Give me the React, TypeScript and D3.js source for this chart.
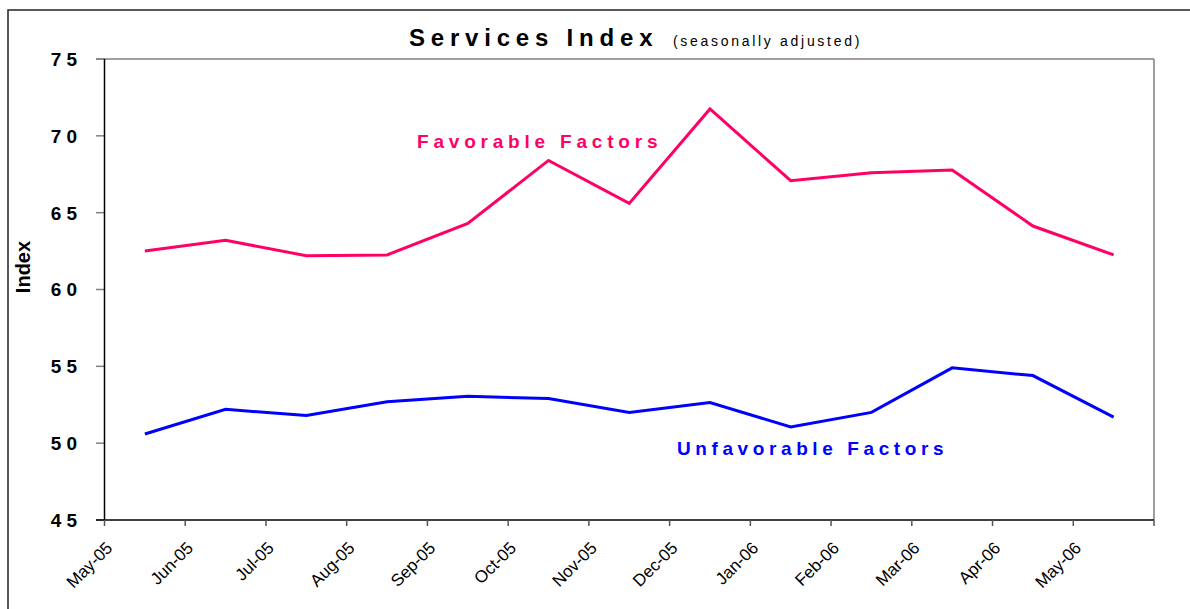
import React from "react";
import * as d3 from "d3";

// month labels on the tick marks (last tick has no label)
const months = [
  "May-05", "Jun-05", "Jul-05", "Aug-05", "Sep-05", "Oct-05", "Nov-05",
  "Dec-05", "Jan-06", "Feb-06", "Mar-06", "Apr-06", "May-06",
];
const favorable = [62.5, 63.2, 62.2, 62.25, 64.3, 68.4, 65.6, 71.75, 67.08, 67.6, 67.78, 64.13, 62.25];
const unfavorable = [50.6, 52.2, 51.8, 52.7, 53.05, 52.9, 52.0, 52.65, 51.05, 52.0, 54.9, 54.4, 51.7];
const yTicks = [45, 50, 55, 60, 65, 70, 75];

const FONT = "'Liberation Sans', Arial, sans-serif";

const App = () => {
  const width = 1190;
  const height = 609;
  const left = 104.5;
  const right = 1154;
  const top = 59;
  const bottom = 520;

  // band scale: tick marks at band starts, points at band centres
  const x = d3.scaleBand<string>().domain(months).range([left, right]).padding(0);
  const y = d3.scaleLinear().domain([45, 75]).range([bottom, top]);
  const cx = (i: number) => (x(months[i]) as number) + x.bandwidth() / 2;

  const line = d3
    .line<number>()
    .x((_, i) => cx(i))
    .y((d) => y(d));

  const tickXs = [...months.map((m) => x(m) as number), right];

  return (
    <svg
      width={width}
      height={height}
      style={{ position: "fixed", left: 0, top: 0, background: "#fff" }}
      fontFamily={FONT}
    >
      {/* outer frame, runs off the right and bottom */}
      <rect x={8} y={10} width={1200} height={620} fill="none" stroke="#222" strokeWidth={1.5} />

      {/* title */}
      <text x={409} y={46} fontSize={24} fontWeight="bold" letterSpacing={5.8} fill="#000">
        Services Index
      </text>
      <text x={673} y={46} fontSize={14} letterSpacing={2.7} fill="#000">
        (seasonally adjusted)
      </text>

      {/* plot border: top and right gray */}
      <line x1={96} x2={right} y1={top} y2={top} stroke="#808080" strokeWidth={1.5} />
      <line x1={right} x2={right} y1={top} y2={bottom} stroke="#808080" strokeWidth={1.5} />

      {/* y ticks and labels */}
      {yTicks.map((t) => (
        <g key={t}>
          <line x1={96} x2={left} y1={y(t)} y2={y(t)} stroke="#808080" strokeWidth={1.5} />
          <text
            x={82}
            y={y(t)}
            dy="0.36em"
            textAnchor="end"
            fontSize={19}
            fontWeight="bold"
            letterSpacing={5}
            fill="#000"
          >
            {t}
          </text>
        </g>
      ))}

      {/* axes */}
      <line x1={left} x2={left} y1={top} y2={bottom} stroke="#000" strokeWidth={1.5} />
      <line x1={96} x2={right} y1={bottom} y2={bottom} stroke="#000" strokeWidth={1.5} />

      {/* x ticks and rotated labels */}
      {tickXs.map((tx, i) => (
        <line key={i} x1={tx} x2={tx} y1={bottom} y2={bottom + 6} stroke="#555" strokeWidth={1.5} />
      ))}
      {months.map((m) => (
        <text
          key={m}
          transform={`translate(${(x(m) as number) + 9},549) rotate(-45)`}
          textAnchor="end"
          fontSize={17}
          fill="#000"
        >
          {m}
        </text>
      ))}

      {/* y axis title */}
      <text
        transform="translate(30,267) rotate(-90)"
        textAnchor="middle"
        fontSize={20}
        fontWeight="bold"
        fill="#000"
      >
        Index
      </text>

      {/* series */}
      <path d={line(favorable) || ""} fill="none" stroke="#FF0066" strokeWidth={3} />
      <path d={line(unfavorable) || ""} fill="none" stroke="#0000FF" strokeWidth={3} />

      {/* series labels */}
      <text x={417} y={148} fontSize={19} fontWeight="bold" letterSpacing={4.8} fill="#FF0066">
        Favorable Factors
      </text>
      <text x={677} y={455} fontSize={19} fontWeight="bold" letterSpacing={4.6} fill="#0000FF">
        Unfavorable Factors
      </text>
    </svg>
  );
};

export default App;
